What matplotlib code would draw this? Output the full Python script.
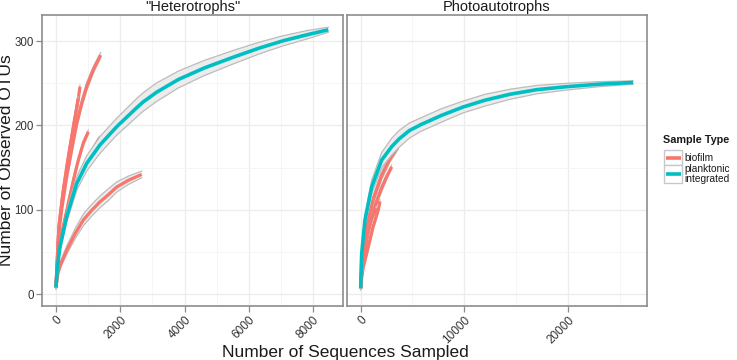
import matplotlib
matplotlib.use('Agg')
import matplotlib.pyplot as plt
import numpy as np
from matplotlib.lines import Line2D
from matplotlib.patches import Rectangle

plt.rcParams['font.family'] = ['Liberation Sans', 'DejaVu Sans']

panel_titles = ['"Heterotrophs"', 'Photoautotrophs']
legend_title = 'Sample Type'
legend_labels = ['biofilm', 'planktonic\nintegrated']
colors = ['#F8766D', '#00BFC4']
x_label = 'Number of Sequences Sampled'
y_label = 'Number of Observed OTUs'

# ---------------- Heterotrophs ----------------
het_plank_x = [0, 40, 124, 332, 643, 954, 1369, 1887, 2509, 2716, 3131, 3805, 4600, 5515, 6300, 7070, 7800, 8470]
het_plank_y = [8, 32, 56, 92, 131, 155, 177, 198.5, 221, 228, 239.5, 254.5, 268, 281, 291.5, 300.5, 307.5, 313.5]
het_plank_hw = [2, 4, 5, 7, 8, 9, 10, 10, 11, 11, 11, 10, 9, 8, 7, 6, 5, 3]

het_bio_x = [
    [0, 60, 150, 332, 600, 850, 1100, 1369, 1630, 1887, 2250, 2665],
    [0, 72, 176, 332, 488, 643, 798, 954, 1161, 1390],
    [0, 104, 228, 384, 540, 695, 746],
    [0, 90, 210, 360, 510, 640, 690],
    [0, 80, 228, 384, 540, 695, 850, 1006],
    [0, 100, 330, 540, 750, 950, 1160, 1348],
]
het_bio_y = [
    [8, 25, 36, 52, 72, 88, 99, 109.5, 118, 127, 135, 142],
    [8, 68, 100, 139, 171, 202, 226, 246, 266, 283.5],
    [8, 84, 123, 163, 198.5, 232, 246],
    [8, 80, 118, 156, 190, 220, 232],
    [8, 50, 80, 108, 135, 159, 179, 192.5],
    [8, 60, 96, 122, 142, 158, 172, 185],
]
het_bio_hw = [
    [2, 3, 4, 5, 6, 7, 7, 7, 7, 6, 5, 4],
    [1, 2, 3, 4, 4, 5, 5, 5, 4, 3],
    [1, 2, 3, 3, 3, 3, 2],
    [1, 2, 3, 3, 3, 3, 2],
    [1, 2, 3, 3, 3, 3, 3, 2],
    [1, 2, 3, 3, 3, 3, 3, 2],
]

# ---------------- Photoautotrophs ----------------
pho_plank_x = [0, 30, 96, 415, 1060, 2025, 3000, 3700, 4700, 5800, 7800, 9900, 12000, 14400, 17000, 19860, 23000, 26290]
pho_plank_y = [7, 25, 48, 88, 127, 159, 175, 184, 194, 201, 212, 222, 230, 237, 242.5, 246, 249, 251]
pho_plank_hw = [2, 3, 4, 6, 8, 9, 10, 10, 9, 8, 8, 7, 7, 6, 5, 4, 3, 2]

pho_bio_x = [
    [0, 100, 300, 600, 1200, 2000, 2800, 3626],
    [0, 100, 250, 700, 1300, 2000, 2500, 2990],
    [0, 100, 250, 733, 1200, 1700, 1860],
    [0, 150, 500, 1000, 1500],
]
pho_bio_y = [
    [7, 28, 50, 80, 112, 140, 160, 175],
    [7, 25, 40, 72, 102, 125, 139, 151],
    [7, 20, 32, 56, 80, 100, 110],
    [7, 35, 65, 88, 102],
]
pho_bio_hw = [
    [1, 2, 3, 4, 5, 5, 4, 3],
    [1, 2, 3, 4, 4, 4, 3, 2],
    [1, 2, 3, 3, 3, 3, 2],
    [1, 2, 3, 3, 2],
]

x_majors = [[0, 2000, 4000, 6000, 8000], [0, 10000, 20000]]
x_minors = [[1000, 3000, 5000, 7000], [5000, 15000, 25000]]
x_lims = [(-435, 8927), (-1320, 27630)]
y_majors = [0, 100, 200, 300]
y_minors = [50, 150, 250]
y_lim = (-14, 331)

W, H = 737, 360
fig = plt.figure(figsize=(W / 100, H / 100), dpi=100)
ax1 = fig.add_axes([42 / W, 1 - 306 / H, 301 / W, 291 / H])
ax2 = fig.add_axes([347 / W, 1 - 306 / H, 300 / W, 291 / H])
axes = [ax1, ax2]

ribbon_face = '#ececec'
ribbon_edge = '#bcbcbc'


def draw_curve(ax, x, y, hw, color, lw, z):
    x = np.asarray(x, float)
    y = np.asarray(y, float)
    hw = np.asarray(hw, float)
    ax.fill_between(x, y - hw, y + hw, facecolor=ribbon_face, edgecolor='none', zorder=z)
    ax.plot(x, y - hw, color=ribbon_edge, lw=0.9, zorder=z + 0.1)
    ax.plot(x, y + hw, color=ribbon_edge, lw=0.9, zorder=z + 0.1)
    ax.plot(x, y, color=color, lw=lw, solid_capstyle='butt', solid_joinstyle='round', zorder=z + 0.2)


datasets = [
    (het_bio_x, het_bio_y, het_bio_hw, het_plank_x, het_plank_y, het_plank_hw),
    (pho_bio_x, pho_bio_y, pho_bio_hw, pho_plank_x, pho_plank_y, pho_plank_hw),
]

for i, ax in enumerate(axes):
    bx, by, bhw, px, py, phw = datasets[i]
    for j in range(len(bx)):
        draw_curve(ax, bx[j], by[j], bhw[j], colors[0], 2.3, 3 + j * 0.3)
    draw_curve(ax, px, py, phw, colors[1], 2.6, 6)

    ax.set_xlim(*x_lims[i])
    ax.set_ylim(*y_lim)
    ax.set_xticks(x_majors[i])
    ax.set_xticks(x_minors[i], minor=True)
    ax.set_yticks(y_majors)
    ax.set_yticks(y_minors, minor=True)
    ax.grid(True, which='major', color='#ececec', lw=0.9, zorder=0)
    ax.grid(True, which='minor', color='#f5f5f5', lw=0.7, zorder=0)
    ax.set_axisbelow(True)
    for s in ax.spines.values():
        s.set_color('#8c8c8c')
        s.set_linewidth(1.2)
    ax.tick_params(which='minor', length=0)
    ax.tick_params(which='major', length=4, width=0.9, pad=2, color='#8c8c8c', labelcolor='#333333')
    ax.set_xticklabels([str(v) for v in x_majors[i]], rotation=45, ha='right', va='top',
                       rotation_mode='anchor', fontsize=8.5)
    ax.set_title(panel_titles[i], fontsize=10.5, pad=3, color='#1a1a1a')

ax1.set_yticklabels([str(v) for v in y_majors], fontsize=8.3)
ax2.tick_params(axis='y', which='both', left=False, labelleft=False)

fig.text(345 / W, 1 - 352 / H, x_label, ha='center', va='center', fontsize=12.5, color='#1a1a1a')
fig.text(7 / W, 1 - 160 / H, y_label, ha='center', va='center', rotation=90, fontsize=12.5, color='#1a1a1a')

# ---------------- legend (drawn in figure pixel coordinates) ----------------
tf = fig.transFigure
fig.text(663 / W, 1 - 140 / H, legend_title, ha='left', va='center', fontsize=7.8,
         fontweight='bold', color='#1a1a1a')
key_boxes = [(150, 165.5), (165.5, 183)]
for k, (c, lab) in enumerate(zip(colors, legend_labels)):
    top, bot = key_boxes[k]
    fig.add_artist(Rectangle((664 / W, 1 - bot / H), 18 / W, (bot - top) / H, transform=tf,
                             facecolor='white', edgecolor='#c8c8c8', lw=1.0))
    ymid = 1 - (top + bot) / 2 / H
    fig.add_artist(Line2D([665.5 / W, 680.5 / W], [ymid, ymid], transform=tf, color=c, lw=2.6,
                          solid_capstyle='butt'))
    fig.text(684 / W, ymid, lab, ha='left', va='center', fontsize=7.3, color='#1a1a1a',
             linespacing=0.95)

fig.savefig('out.png', dpi=100, facecolor='white')
